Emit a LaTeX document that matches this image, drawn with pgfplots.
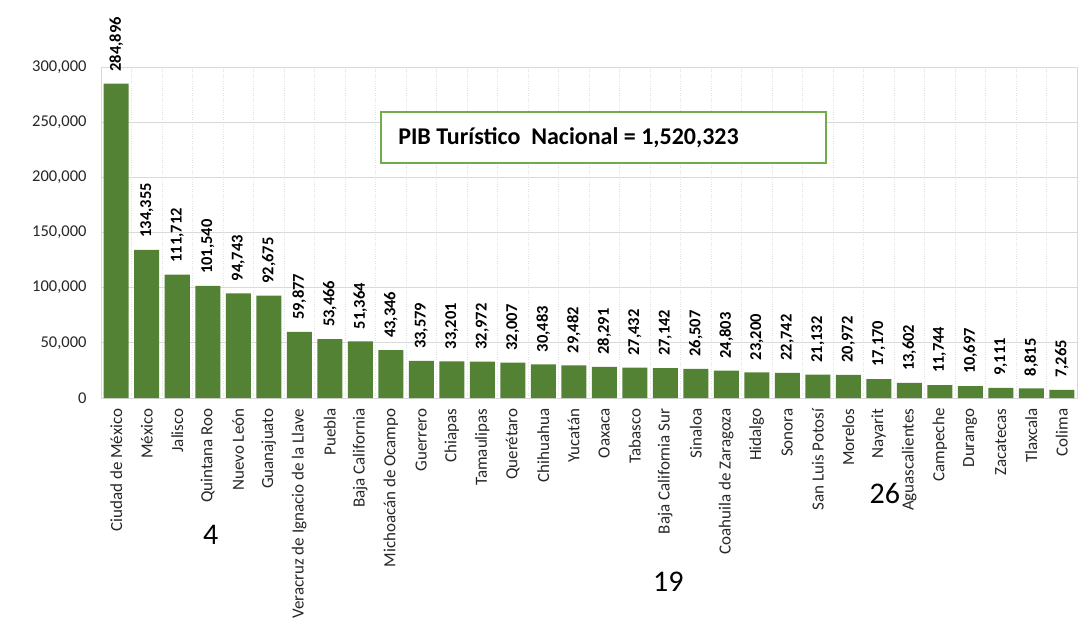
\documentclass[border=0pt]{standalone}
\usepackage{fontspec}
\setmainfont{Carlito}
\usepackage{pgfplots}
\pgfplotsset{compat=1.18}
\definecolor{bargreen}{RGB}{84,130,53}
\definecolor{boxgreen}{RGB}{112,173,71}
\definecolor{gridgray}{RGB}{217,217,217}
\newcommand{\tickfont}{\fontsize{16.5}{19}\selectfont}
\newcommand{\catfont}{\fontsize{17}{20}\selectfont}

\begin{document}
\begin{tikzpicture}
\path[use as bounding box] (-101pt,-236pt) rectangle (983pt,398pt);
\begin{axis}[
  scale only axis,
  width=976pt, height=331pt,
  xmin=-0.5, xmax=31.5,
  ymin=0, ymax=300000,
  ybar, bar width=25pt, bar shift=0pt,
  clip=false,
  /pgf/number format/assume math mode=true,
  /pgf/number format/fixed,
  /pgf/number format/1000 sep={,},
  scaled y ticks=false,
  ytick={0,50000,...,300000},
  xtick={0,...,31},
  minor xtick={-0.5,0.5,...,31.5},
  xticklabels={Ciudad de México, México, Jalisco, Quintana Roo, Nuevo León,
    Guanajuato, Veracruz de Ignacio de la Llave, Puebla, Baja California,
    Michoacán de Ocampo, Guerrero, Chiapas, Tamaulipas, Querétaro, Chihuahua,
    Yucatán, Oaxaca, Tabasco, Baja California Sur, Sinaloa,
    Coahuila de Zaragoza, Hidalgo, Sonora, San Luis Potosí, Morelos, Nayarit,
    Aguascalientes, Campeche, Durango, Zacatecas, Tlaxcala, Colima},
  xticklabel style={yshift=-7pt, rotate=90, anchor=east, font=\catfont, text=black!85},
  yticklabel style={xshift=-11pt, font=\tickfont, text=black!85},
  major tick length=0pt, minor tick length=0pt,
  ymajorgrids=true, xminorgrids=true,
  major grid style={gridgray, line width=0.9pt},
  minor grid style={black!12, dotted, line width=0.6pt},
  axis line style={gridgray, line width=0.9pt},
  nodes near coords,
  every node near coord/.append style={rotate=90, anchor=west,
    inner xsep=12pt, font=\bfseries\tickfont, text=black},
]
\addplot[fill=bargreen, draw=none] coordinates {
(0,284896) (1,134355) (2,111712) (3,101540) (4,94743) (5,92675)
(6,59877) (7,53466) (8,51364) (9,43346) (10,33579) (11,33201)
(12,32972) (13,32007) (14,30483) (15,29482) (16,28291) (17,27432)
(18,27142) (19,26507) (20,24803) (21,23200) (22,22742) (23,21132)
(24,20972) (25,17170) (26,13602) (27,11744) (28,10697) (29,9111)
(30,8815) (31,7265)
};
\draw[boxgreen, line width=1.8pt, fill=white]
  (axis cs:8.68,212991) rectangle (axis cs:23.27,259214);
\node[anchor=west, inner sep=0pt, font=\bfseries\fontsize{24}{28}\selectfont]
  at (axis cs:9.24,236103) {PIB Turístico\ \ Nacional = 1,520,323};
\node[font=\fontsize{30}{36}\selectfont] at (axis cs:3.1,-124199) {4};
\node[font=\fontsize{30}{36}\selectfont] at (axis cs:18.1,-166767) {19};
\node[font=\fontsize{30}{36}\selectfont] at (axis cs:25.2,-86102) {26};
\end{axis}
\end{tikzpicture}
\end{document}
